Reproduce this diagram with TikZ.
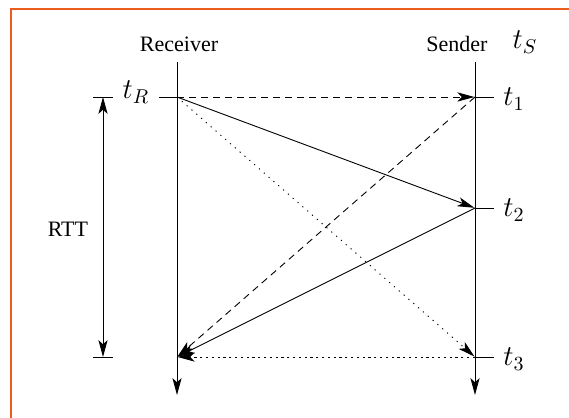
\documentclass[tikz,border=0pt]{standalone}
\usepackage{fontspec}
\setmainfont{Liberation Serif}
\usetikzlibrary{arrows.meta}
\definecolor{frameorange}{RGB}{236,92,28}
\begin{document}
\begin{tikzpicture}[x=0.5pt,y=-0.5pt,
  line width=0.45pt,
  >={Stealth[length=8.5pt,width=4.6pt,inset=2.2pt]},
  timeline/.style={draw,->},
  tick/.style={draw},
  msg/.style={draw,->,shorten >=0.3pt},
  dashmsg/.style={msg,dash pattern=on 3.5pt off 2.5pt},
  dotmsg/.style={msg,dash pattern=on 0.6pt off 2.6pt},
  shortdashmsg/.style={msg,dash pattern=on 1.1pt off 1.8pt},
  word/.style={font=\fontsize{11}{13}\selectfont},
  tlabel/.style={font=\Large,inner sep=1pt},
  endlabel/.style={font=\Large,anchor=west,inner sep=1pt}]
\useasboundingbox (0,0) rectangle (569,418);
% frame
\draw[frameorange,line width=1pt] (11,418) -- (11,8.5) -- (569,8.5);

% time lines of both parties
\coordinate (rtop) at (177,62);
\coordinate (rbot) at (177,395);
\coordinate (stop) at (475,62);
\coordinate (sbot) at (475,395);
\draw[timeline] (rtop) -- (rbot);
\draw[timeline] (stop) -- (sbot);

\node[word] (recv) at (179,44) {Receiver};
\node[word] (send) at (457,44) {Sender};
\node[tlabel] (tS) at (525,42) {$t_S$};

% event points
\coordinate (r0) at (177,97);
\coordinate (r3) at (177,357);
\coordinate (s1) at (475,97);
\coordinate (s2) at (475,208);
\coordinate (s3) at (475,357);

% tick marks
\coordinate (rl) at (159,97);
\coordinate (s1r) at (494,97);
\coordinate (s2r) at (494,208);
\coordinate (s3r) at (494,357);
\draw[tick] (rl) -- (r0);
\draw[tick] (s1) -- (s1r);
\draw[tick] (s2) -- (s2r);
\draw[tick] (s3) -- (s3r);

\node[tlabel] (tR) at (136,92) {$t_R$};
\node[endlabel] (t1) at (501,99) {$t_1$};
\node[endlabel] (t2) at (501,210) {$t_2$};
\node[endlabel] (t3) at (501,359) {$t_3$};

% messages
\draw[dashmsg] (r0) -- (s1);
\draw[msg] (r0) -- (s2);
\draw[dotmsg] (r0) -- (s3);
\draw[dashmsg] (s1) -- (r3);
\draw[msg] (s2) -- (r3);
\draw[shortdashmsg] (s3) -- (r3);

% round trip time
\coordinate (rttT) at (103,97);
\coordinate (rttB) at (103,357);
\coordinate (rttTl) at (93,97);
\coordinate (rttTr) at (113,97);
\coordinate (rttBl) at (93,357);
\coordinate (rttBr) at (113,357);
\draw[tick] (rttTl) -- (rttTr);
\draw[tick] (rttBl) -- (rttBr);
\draw[<->] (rttT) -- (rttB);
\node[word] (rtt) at (68,229) {RTT};
\end{tikzpicture}
\end{document}
